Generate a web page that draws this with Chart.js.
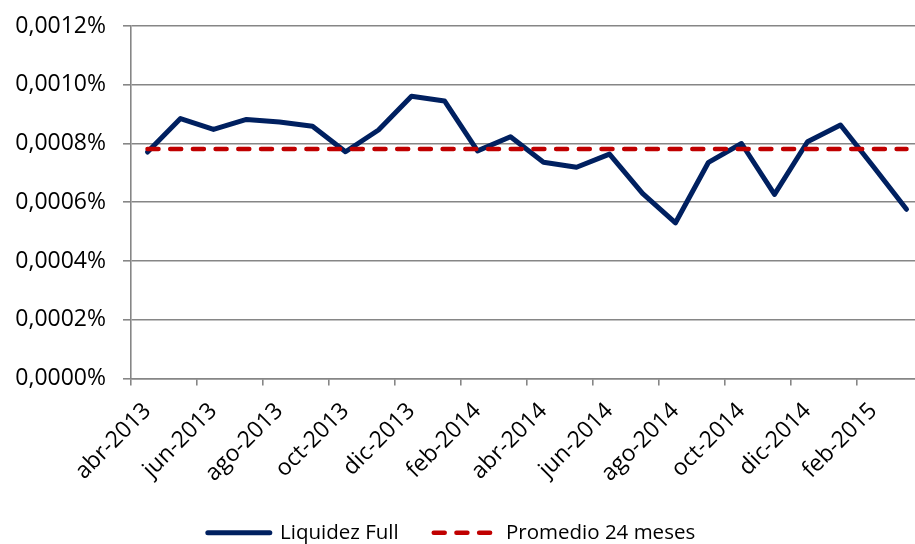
<!DOCTYPE html>
<html>
<head>
<meta charset="utf-8">
<script src="https://cdn.jsdelivr.net/npm/chart.js@4/dist/chart.umd.min.js"></script>
<style>
  html, body { margin: 0; padding: 0; background: #fff; overflow: hidden; }
  #wrap { width: 940px; height: 553px; }
</style>
</head>
<body>
<div id="wrap"><canvas id="c" width="940" height="553"></canvas></div>
<script>
const categories = [
  'abr-2013','may-2013','jun-2013','jul-2013','ago-2013','sep-2013','oct-2013','nov-2013','dic-2013',
  'ene-2014','feb-2014','mar-2014','abr-2014','may-2014','jun-2014','jul-2014','ago-2014','sep-2014',
  'oct-2014','nov-2014','dic-2014','ene-2015','feb-2015','mar-2015'
];
const liquidezFull = [
  0.000771, 0.000885, 0.000848, 0.000882, 0.000873, 0.000859, 0.000772, 0.000846, 0.000961,
  0.000945, 0.000775, 0.000823, 0.000736, 0.000719, 0.000764, 0.000630, 0.000530, 0.000736,
  0.000800, 0.000627, 0.000806, 0.000863, 0.000721, 0.000576
];
const promedio24 = [
  0.000781, 0.000781, 0.000781, 0.000781, 0.000781, 0.000781, 0.000781, 0.000781, 0.000781,
  0.000781, 0.000781, 0.000781, 0.000781, 0.000781, 0.000781, 0.000781, 0.000781, 0.000781,
  0.000781, 0.000781, 0.000781, 0.000781, 0.000781, 0.000781
];
const seriesNames = ['Liquidez Full', 'Promedio 24 meses'];
const yTicks = { min: 0, max: 0.0012, step: 0.0002 };

const FONT = '"Open Sans", "Noto Sans", sans-serif';
const GRID = '#868686';

new Chart(document.getElementById('c'), {
  type: 'line',
  data: {
    labels: categories,
    datasets: [
      {
        label: seriesNames[0],
        data: liquidezFull,
        borderColor: '#002060',
        backgroundColor: '#002060',
        borderWidth: 5,
        borderJoinStyle: 'round',
        borderCapStyle: 'round',
        pointRadius: 0,
        tension: 0,
        order: 2
      },
      {
        label: seriesNames[1],
        data: promedio24,
        borderColor: '#C00000',
        backgroundColor: '#C00000',
        borderWidth: 4.5,
        borderDash: [11, 11.7],
        borderCapStyle: 'round',
        pointRadius: 0,
        tension: 0,
        order: 1
      }
    ]
  },
  options: {
    responsive: false,
    animation: false,
    devicePixelRatio: 1,
    layout: { padding: { top: 26, right: 17, left: -20, bottom: 0 } },
    plugins: {
      tooltip: { enabled: false },
      legend: {
        position: 'bottom',
        labels: {
          usePointStyle: true,
          pointStyleWidth: 62,
          padding: 35,
          color: '#000',
          font: { family: FONT, size: 20.5 },
          generateLabels: (chart) => chart.data.datasets.map((ds, i) => ({
            text: ds.label,
            fillStyle: ds.borderColor,
            strokeStyle: ds.borderColor,
            lineWidth: ds.borderWidth,
            lineDash: ds.borderDash || [],
            lineCap: 'round',
            pointStyle: 'line',
            hidden: false,
            datasetIndex: i
          }))
        }
      }
    },
    scales: {
      x: {
        type: 'category',
        offset: true,
        afterFit: (scale) => { scale.height = 109; },
        border: { display: true, color: GRID, width: 1.6 },
        grid: {
          display: true,
          offset: true,
          drawOnChartArea: false,
          drawTicks: true,
          tickLength: 7,
          lineWidth: 1.6,
          color: (ctx) => (ctx.index % 2 === 0 ? GRID : 'rgba(0,0,0,0)')
        },
        ticks: {
          autoSkip: false,
          minRotation: 45,
          maxRotation: 45,
          padding: 12,
          color: '#000',
          font: { family: FONT, size: 23 },
          callback: function (val, index) {
            return index % 2 === 0 ? this.getLabelForValue(val) : '';
          }
        }
      },
      y: {
        min: yTicks.min,
        max: yTicks.max,
        afterFit: (scale) => { scale.width = 151; scale.paddingTop = 10; },
        border: { display: true, color: GRID, width: 1.6 },
        grid: {
          color: GRID,
          lineWidth: 1.6,
          drawTicks: true,
          tickLength: 8
        },
        ticks: {
          stepSize: yTicks.step,
          padding: 17,
          color: '#000',
          font: { family: FONT, size: 23 },
          callback: (v) => Number(v).toFixed(4).replace('.', ',') + '%'
        }
      }
    }
  }
});
</script>
</body>
</html>
